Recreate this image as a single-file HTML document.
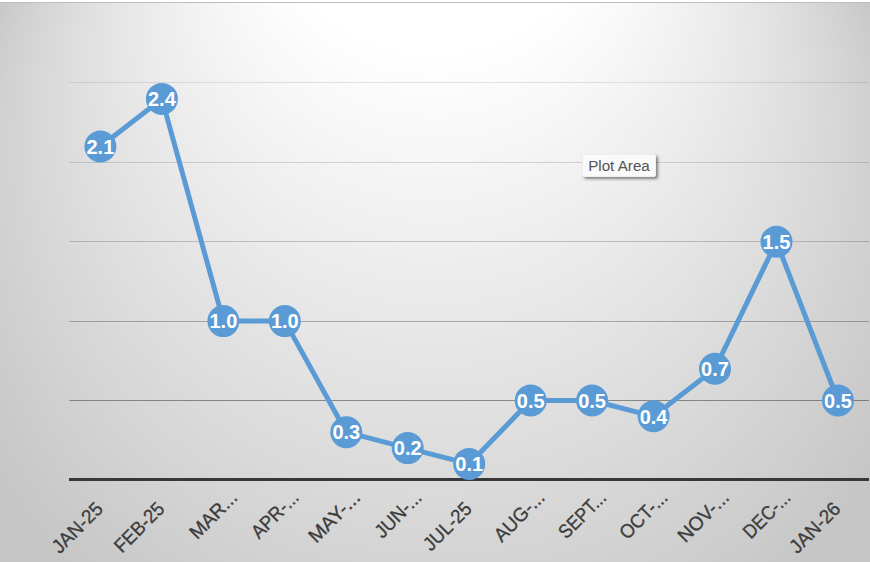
<!DOCTYPE html>
<html><head><meta charset="utf-8"><title>Chart</title>
<style>
html,body{margin:0;padding:0;background:#fff;}
body{width:870px;height:562px;overflow:hidden;position:relative;font-family:"Liberation Sans",sans-serif;}
svg{position:absolute;left:0;top:0;}
.dl{font-family:"Liberation Sans",sans-serif;font-weight:bold;font-size:20px;fill:#fff;text-anchor:middle;}
.ax{font-family:"Liberation Sans",sans-serif;font-size:19.5px;fill:#3c3c3c;stroke:#3c3c3c;stroke-width:.3px;text-anchor:end;}
#tip{position:absolute;left:582px;top:153.6px;width:74px;height:23.6px;box-sizing:border-box;background:#fafafa;border:1px solid #f0f0f0;border-radius:2px;box-shadow:2px 2px 3px rgba(0,0,0,.45);font-size:15.2px;line-height:21.8px;color:#555;text-align:center;white-space:nowrap;}
</style></head><body>
<svg width="870" height="562" viewBox="0 0 870 562">
<defs><clipPath id="cc"><rect x="0" y="3" width="870" height="559"/></clipPath></defs>
<g clip-path="url(#cc)">
<rect x="0" y="3" width="870" height="559" fill="rgb(198,198,198)"/>
<ellipse cx="434.0" cy="232.0" rx="495.1" ry="490.6" fill="rgb(199,199,199)"/>
<ellipse cx="434.0" cy="225.7" rx="489.4" ry="484.9" fill="rgb(200,200,200)"/>
<ellipse cx="434.0" cy="219.5" rx="483.7" ry="479.3" fill="rgb(201,201,201)"/>
<ellipse cx="434.0" cy="213.3" rx="478.0" ry="473.6" fill="rgb(202,202,202)"/>
<ellipse cx="434.0" cy="207.0" rx="472.3" ry="467.9" fill="rgb(203,203,203)"/>
<ellipse cx="434.0" cy="200.8" rx="466.6" ry="462.3" fill="rgb(204,204,204)"/>
<ellipse cx="434.0" cy="194.6" rx="460.9" ry="456.6" fill="rgb(205,205,205)"/>
<ellipse cx="434.0" cy="188.3" rx="455.2" ry="451.0" fill="rgb(206,206,206)"/>
<ellipse cx="434.0" cy="182.1" rx="449.5" ry="445.3" fill="rgb(207,207,207)"/>
<ellipse cx="434.0" cy="175.8" rx="443.8" ry="439.7" fill="rgb(208,208,208)"/>
<ellipse cx="434.0" cy="169.6" rx="438.0" ry="434.0" fill="rgb(209,209,209)"/>
<ellipse cx="434.0" cy="163.4" rx="432.3" ry="428.3" fill="rgb(210,210,210)"/>
<ellipse cx="434.0" cy="157.1" rx="426.6" ry="422.7" fill="rgb(211,211,211)"/>
<ellipse cx="434.0" cy="150.9" rx="420.9" ry="417.0" fill="rgb(212,212,212)"/>
<ellipse cx="434.0" cy="144.6" rx="415.2" ry="411.4" fill="rgb(213,213,213)"/>
<ellipse cx="434.0" cy="138.4" rx="409.5" ry="405.7" fill="rgb(214,214,214)"/>
<ellipse cx="434.0" cy="132.2" rx="403.8" ry="400.1" fill="rgb(215,215,215)"/>
<ellipse cx="434.0" cy="125.9" rx="398.1" ry="394.4" fill="rgb(216,216,216)"/>
<ellipse cx="434.0" cy="119.7" rx="392.4" ry="388.7" fill="rgb(217,217,217)"/>
<ellipse cx="434.0" cy="113.5" rx="386.7" ry="383.1" fill="rgb(218,218,218)"/>
<ellipse cx="434.0" cy="107.2" rx="381.0" ry="377.4" fill="rgb(219,219,219)"/>
<ellipse cx="434.0" cy="101.0" rx="375.2" ry="371.8" fill="rgb(220,220,220)"/>
<ellipse cx="434.0" cy="94.7" rx="369.5" ry="366.1" fill="rgb(221,221,221)"/>
<ellipse cx="434.0" cy="88.5" rx="363.8" ry="360.5" fill="rgb(222,222,222)"/>
<ellipse cx="434.0" cy="82.3" rx="358.1" ry="354.8" fill="rgb(223,223,223)"/>
<ellipse cx="434.0" cy="76.0" rx="352.4" ry="349.2" fill="rgb(224,224,224)"/>
<ellipse cx="434.0" cy="69.8" rx="346.7" ry="343.5" fill="rgb(225,225,225)"/>
<ellipse cx="434.0" cy="63.6" rx="341.0" ry="337.8" fill="rgb(226,226,226)"/>
<ellipse cx="434.0" cy="57.3" rx="335.3" ry="332.2" fill="rgb(227,227,227)"/>
<ellipse cx="434.0" cy="51.1" rx="329.6" ry="326.5" fill="rgb(228,228,228)"/>
<ellipse cx="434.0" cy="44.8" rx="323.9" ry="320.9" fill="rgb(229,229,229)"/>
<ellipse cx="434.0" cy="38.6" rx="318.1" ry="315.2" fill="rgb(230,230,230)"/>
<ellipse cx="434.0" cy="32.4" rx="312.4" ry="309.6" fill="rgb(231,231,231)"/>
<ellipse cx="434.0" cy="26.1" rx="306.7" ry="303.9" fill="rgb(232,232,232)"/>
<ellipse cx="434.0" cy="19.9" rx="301.0" ry="298.2" fill="rgb(233,233,233)"/>
<ellipse cx="434.0" cy="13.6" rx="295.3" ry="292.6" fill="rgb(234,234,234)"/>
<ellipse cx="434.0" cy="7.4" rx="289.6" ry="286.9" fill="rgb(235,235,235)"/>
<ellipse cx="434.0" cy="1.2" rx="283.9" ry="281.3" fill="rgb(236,236,236)"/>
<ellipse cx="434.0" cy="-5.1" rx="278.2" ry="275.6" fill="rgb(237,237,237)"/>
<ellipse cx="434.0" cy="-11.3" rx="272.5" ry="270.0" fill="rgb(238,238,238)"/>
<ellipse cx="434.0" cy="-17.5" rx="266.8" ry="264.3" fill="rgb(239,239,239)"/>
<ellipse cx="434.0" cy="-23.8" rx="261.1" ry="258.6" fill="rgb(240,240,240)"/>
<ellipse cx="434.0" cy="-30.0" rx="255.3" ry="253.0" fill="rgb(241,241,241)"/>
<ellipse cx="434.0" cy="-36.3" rx="249.6" ry="247.3" fill="rgb(242,242,242)"/>
<ellipse cx="434.0" cy="-42.5" rx="243.9" ry="241.7" fill="rgb(243,243,243)"/>
<ellipse cx="434.0" cy="-48.7" rx="238.2" ry="236.0" fill="rgb(244,244,244)"/>
<ellipse cx="434.0" cy="-55.0" rx="232.5" ry="230.4" fill="rgb(245,245,245)"/>
<ellipse cx="434.0" cy="-61.2" rx="226.8" ry="224.7" fill="rgb(246,246,246)"/>
<ellipse cx="434.0" cy="-67.4" rx="221.1" ry="219.0" fill="rgb(247,247,247)"/>
<ellipse cx="434.0" cy="-73.7" rx="215.4" ry="213.4" fill="rgb(248,248,248)"/>
<ellipse cx="434.0" cy="-79.9" rx="209.7" ry="207.7" fill="rgb(249,249,249)"/>
<ellipse cx="434.0" cy="-86.2" rx="204.0" ry="202.1" fill="rgb(250,250,250)"/>
<ellipse cx="434.0" cy="-92.4" rx="198.2" ry="196.4" fill="rgb(251,251,251)"/>
<ellipse cx="434.0" cy="-98.6" rx="192.5" ry="190.8" fill="rgb(252,252,252)"/>
<ellipse cx="434.0" cy="-104.9" rx="186.8" ry="185.1" fill="rgb(253,253,253)"/>
<ellipse cx="434.0" cy="-111.1" rx="181.1" ry="179.4" fill="rgb(254,254,254)"/>
<ellipse cx="434.0" cy="-117.4" rx="175.4" ry="173.8" fill="rgb(255,255,255)"/>
</g>
<rect x="0" y="2" width="870" height="1" fill="#bdbdbd"/>
<rect x="69.5" y="82" width="799.5" height="1" fill="rgba(0,0,0,.095)"/>
<rect x="69.5" y="162" width="799.5" height="1" fill="rgba(0,0,0,.14)"/>
<rect x="69.5" y="241" width="799.5" height="1" fill="rgba(0,0,0,.19)"/>
<rect x="69.5" y="321" width="799.5" height="1" fill="rgba(0,0,0,.275)"/>
<rect x="69.5" y="400" width="799.5" height="1" fill="rgba(0,0,0,.39)"/>
<rect x="69" y="478" width="800" height="3" fill="#383838"/>
<polyline points="100.4,146.5 161.9,98.9 223.4,321.1 284.8,321.1 346.3,432.2 407.7,448.1 469.2,463.9 530.7,400.5 592.1,400.5 653.6,416.3 715.0,368.7 776.5,241.8 838.0,400.5" fill="none" stroke="#5b9bd5" stroke-width="5" stroke-linejoin="round" stroke-linecap="round"/>
<circle cx="100.4" cy="146.5" r="16" fill="#5b9bd5"/>
<circle cx="161.9" cy="98.9" r="16" fill="#5b9bd5"/>
<circle cx="223.4" cy="321.1" r="16" fill="#5b9bd5"/>
<circle cx="284.8" cy="321.1" r="16" fill="#5b9bd5"/>
<circle cx="346.3" cy="432.2" r="16" fill="#5b9bd5"/>
<circle cx="407.7" cy="448.1" r="16" fill="#5b9bd5"/>
<circle cx="469.2" cy="463.9" r="16" fill="#5b9bd5"/>
<circle cx="530.7" cy="400.5" r="16" fill="#5b9bd5"/>
<circle cx="592.1" cy="400.5" r="16" fill="#5b9bd5"/>
<circle cx="653.6" cy="416.3" r="16" fill="#5b9bd5"/>
<circle cx="715.0" cy="368.7" r="16" fill="#5b9bd5"/>
<circle cx="776.5" cy="241.8" r="16" fill="#5b9bd5"/>
<circle cx="838.0" cy="400.5" r="16" fill="#5b9bd5"/>
<text class="dl" x="100.4" y="153.7">2.1</text>
<text class="dl" x="161.9" y="106.1">2.4</text>
<text class="dl" x="223.4" y="328.3">1.0</text>
<text class="dl" x="284.8" y="328.3">1.0</text>
<text class="dl" x="346.3" y="439.4">0.3</text>
<text class="dl" x="407.7" y="455.3">0.2</text>
<text class="dl" x="469.2" y="471.1">0.1</text>
<text class="dl" x="530.7" y="407.7">0.5</text>
<text class="dl" x="592.1" y="407.7">0.5</text>
<text class="dl" x="653.6" y="423.5">0.4</text>
<text class="dl" x="715.0" y="375.9">0.7</text>
<text class="dl" x="776.5" y="249.0">1.5</text>
<text class="dl" x="838.0" y="407.7">0.5</text>
<text class="ax" transform="translate(104.2,510.0) rotate(-45)" textLength="63.0" lengthAdjust="spacingAndGlyphs">JAN-25</text>
<text class="ax" transform="translate(165.7,510.0) rotate(-45)" textLength="61.9" lengthAdjust="spacingAndGlyphs">FEB-25</text>
<text class="ax" transform="translate(238.6,498.8) rotate(-45)" textLength="58.6" lengthAdjust="spacingAndGlyphs">MAR...</text>
<text class="ax" transform="translate(300.0,498.8) rotate(-45)" textLength="57.9" lengthAdjust="spacingAndGlyphs">APR-...</text>
<text class="ax" transform="translate(361.5,498.8) rotate(-45)" textLength="64.1" lengthAdjust="spacingAndGlyphs">MAY-...</text>
<text class="ax" transform="translate(422.9,498.8) rotate(-45)" textLength="57.2" lengthAdjust="spacingAndGlyphs">JUN-...</text>
<text class="ax" transform="translate(473.0,510.0) rotate(-45)" textLength="59.4" lengthAdjust="spacingAndGlyphs">JUL-25</text>
<text class="ax" transform="translate(545.9,498.8) rotate(-45)" textLength="62.6" lengthAdjust="spacingAndGlyphs">AUG-...</text>
<text class="ax" transform="translate(607.3,498.8) rotate(-45)" textLength="58.0" lengthAdjust="spacingAndGlyphs">SEPT...</text>
<text class="ax" transform="translate(668.8,498.8) rotate(-45)" textLength="58.9" lengthAdjust="spacingAndGlyphs">OCT-...</text>
<text class="ax" transform="translate(730.2,498.8) rotate(-45)" textLength="63.1" lengthAdjust="spacingAndGlyphs">NOV-...</text>
<text class="ax" transform="translate(791.7,498.8) rotate(-45)" textLength="57.8" lengthAdjust="spacingAndGlyphs">DEC-...</text>
<text class="ax" transform="translate(841.8,510.0) rotate(-45)" textLength="63.0" lengthAdjust="spacingAndGlyphs">JAN-26</text>
</svg>
<div id="tip">Plot Area</div>
</body></html>
